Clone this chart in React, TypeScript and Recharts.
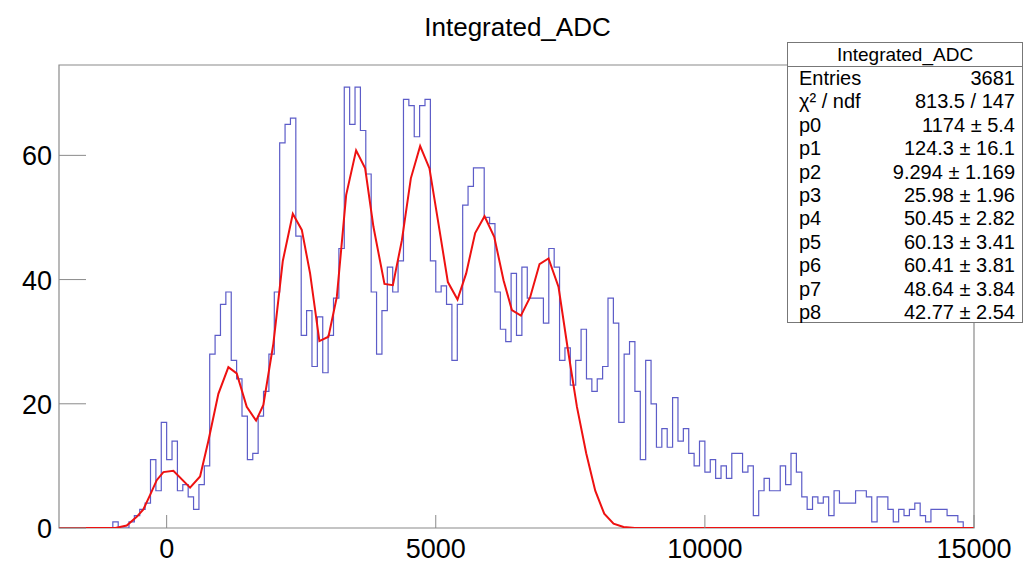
import { ComposedChart, Line, XAxis, YAxis, ReferenceArea } from 'recharts'

// histogram: counts per 100-wide bin, first bin starts at -1000
const BIN_START = -1000
const BIN_WIDTH = 100
const counts = [
  1, 0, 0, 1, 2, 3, 4, 11, 6, 17,
  11, 14, 6, 7, 5, 3, 7, 10, 28, 31,
  36, 38, 27, 24, 18, 11, 12, 18, 22, 28,
  38, 62, 65, 66, 47, 31, 35, 26, 34, 25,
  31, 37, 45, 71, 65, 71, 64, 57, 38, 28,
  35, 42, 38, 43, 69, 68, 63, 68, 69, 43,
  38, 39, 36, 27, 36, 52, 55, 58, 58, 50,
  49, 38, 32, 30, 41, 31, 42, 37, 37, 37,
  33, 45, 42, 27, 29, 23, 27, 32, 24, 22,
  24, 26, 37, 33, 17, 28, 30, 22, 11, 27,
  20, 13, 16, 13, 21, 14, 16, 12, 10, 14,
  9, 11, 8, 10, 8, 12, 12, 9, 10, 2,
  6, 8, 6, 6, 10, 7, 12, 9, 5, 3,
  5, 4, 5, 2, 6, 4, 4, 4, 6, 6,
  5, 1, 5, 5, 3, 1, 3, 2, 3, 4,
  2, 1, 3, 3, 3, 2, 2, 1,
]

// fit curve
const fitX = [
  -2000, -950, -742, -556, -433, -309, -184, -61, 125, 435, 621, 775, 961, 1147, 1302,
  1488, 1662, 1797, 1983, 2158, 2344, 2511, 2665, 2838, 3006, 3162, 3335, 3520, 3688,
  3842, 4047, 4203, 4370, 4537, 4710, 4883, 5050, 5225, 5404, 5565, 5732, 5906, 6086,
  6259, 6414, 6582, 6755, 6928, 7095, 7281, 7448, 7623, 7796, 7963, 8130, 8303, 8489,
  8700, 15000,
]
const fitY = [
  0, 0, 0.4, 1.8, 3, 5.3, 7.7, 9.0, 9.2, 6.5, 8.3, 14, 21.6, 25.9, 24.9,
  19.5, 17.3, 19.8, 29.7, 43, 50.6, 48, 41, 30.1, 30.8, 37.2, 53.6, 60.8, 57.9,
  48.5, 39.3, 39.1, 46.3, 56.3, 61.5, 57.9, 49, 39.6, 36.8, 41, 47.5, 50.2, 46.9,
  39.9, 35.1, 34.2, 37.2, 42.5, 43.4, 38.8, 29.1, 19.5, 12, 6, 2.3, 0.7, 0.15,
  0, 0,
]

const xTicks = [0, 5000, 10000, 15000]
const yTicks = [0, 20, 40, 60]

const statLabels = ['Entries', 'χ² / ndf', 'p0', 'p1', 'p2', 'p3', 'p4', 'p5', 'p6', 'p7', 'p8']
const statValues = [
  '3681', '813.5 / 147', '1174 ± 5.4', '124.3 ± 16.1', '9.294 ± 1.169', '25.98 ± 1.96',
  '50.45 ± 2.82', '60.13 ± 3.41', '60.41 ± 3.81', '48.64 ± 3.84', '42.77 ± 2.54',
]

const FONT = '"Liberation Sans", Arial, Helvetica, sans-serif'
const X_MIN = -2000
const X_MAX = 15000
const Y_MAX = 74.55

const histData = (() => {
  const rows: { x: number; y: number }[] = [{ x: X_MIN, y: 0 }]
  counts.forEach((c, i) => rows.push({ x: BIN_START + i * BIN_WIDTH, y: c }))
  rows.push({ x: BIN_START + counts.length * BIN_WIDTH, y: 0 })
  rows.push({ x: X_MAX, y: 0 })
  return rows
})()

const fitData = fitX.map((x, i) => ({ x, y: fitY[i] }))

function XTick(props: any) {
  const { x, y, payload } = props
  return (
    <g>
      <line x1={x} x2={x} y1={y} y2={y - 13} stroke="#8a8a8a" strokeWidth={1} />
      <text x={x} y={y + 30} textAnchor="middle" fontSize={27} fontFamily={FONT} fill="#000">
        {payload.value}
      </text>
    </g>
  )
}

function YTick(props: any) {
  const { x, y, payload } = props
  return (
    <g>
      <line x1={x} x2={x + 27} y1={y} y2={y} stroke="#8a8a8a" strokeWidth={1} />
      <text x={x - 7} y={y + 10} textAnchor="end" fontSize={27} fontFamily={FONT} fill="#000">
        {payload.value}
      </text>
    </g>
  )
}

export default function App() {
  return (
    <div style={{ position: 'absolute', left: 0, top: 0, width: 1025, height: 564, background: '#fff' }}>
      <ComposedChart
        width={1025}
        height={564}
        margin={{ top: 65, right: 51, bottom: 6, left: 0 }}
      >
        <XAxis
          type="number"
          dataKey="x"
          domain={[X_MIN, X_MAX]}
          ticks={xTicks}
          allowDataOverflow
          height={30}
          tickSize={0}
          tickMargin={0}
          tickLine={false}
          axisLine={false}
          tick={<XTick />}
          interval={0}
        />
        <YAxis
          type="number"
          dataKey="y"
          domain={[0, Y_MAX]}
          ticks={yTicks}
          allowDataOverflow
          width={59}
          tickSize={0}
          tickMargin={0}
          tickLine={false}
          axisLine={false}
          tick={<YTick />}
          interval={0}
        />
        <ReferenceArea
          x1={X_MIN}
          x2={X_MAX}
          y1={0}
          y2={Y_MAX}
          fill="none"
          stroke="#8a8a8a"
          strokeWidth={1.2}
          ifOverflow="extendDomain"
        />
        <Line
          data={histData}
          dataKey="y"
          type="stepAfter"
          stroke="#5c5cc8"
          strokeWidth={1.2}
          dot={false}
          activeDot={false}
          isAnimationActive={false}
        />
        <Line
          data={fitData}
          dataKey="y"
          type="linear"
          stroke="#ee1111"
          strokeWidth={2}
          dot={false}
          activeDot={false}
          isAnimationActive={false}
        />
      </ComposedChart>

      <div
        style={{
          position: 'absolute', left: 0, top: 12, width: 1035, textAlign: 'center',
          fontFamily: FONT, fontSize: 26, color: '#000',
        }}
      >
        Integrated_ADC
      </div>

      <div
        style={{
          position: 'absolute', left: 787, top: 42, width: 236, height: 281,
          border: '1px solid #777', background: '#fff', boxSizing: 'border-box',
          fontFamily: FONT, fontSize: 20, color: '#000',
        }}
      >
        <div
          style={{
            height: 24, lineHeight: '24px', textAlign: 'center',
            borderBottom: '1px solid #777', boxSizing: 'border-box', fontSize: 19,
          }}
        >
          Integrated_ADC
        </div>
        {statLabels.map((lab, i) => (
          <div
            key={lab}
            style={{
              position: 'absolute', left: 11, right: 7, top: 24 + i * 23.4,
              height: 23, lineHeight: '23px', display: 'flex', justifyContent: 'space-between',
            }}
          >
            <span>{lab}</span>
            <span>{statValues[i]}</span>
          </div>
        ))}
      </div>
    </div>
  )
}
